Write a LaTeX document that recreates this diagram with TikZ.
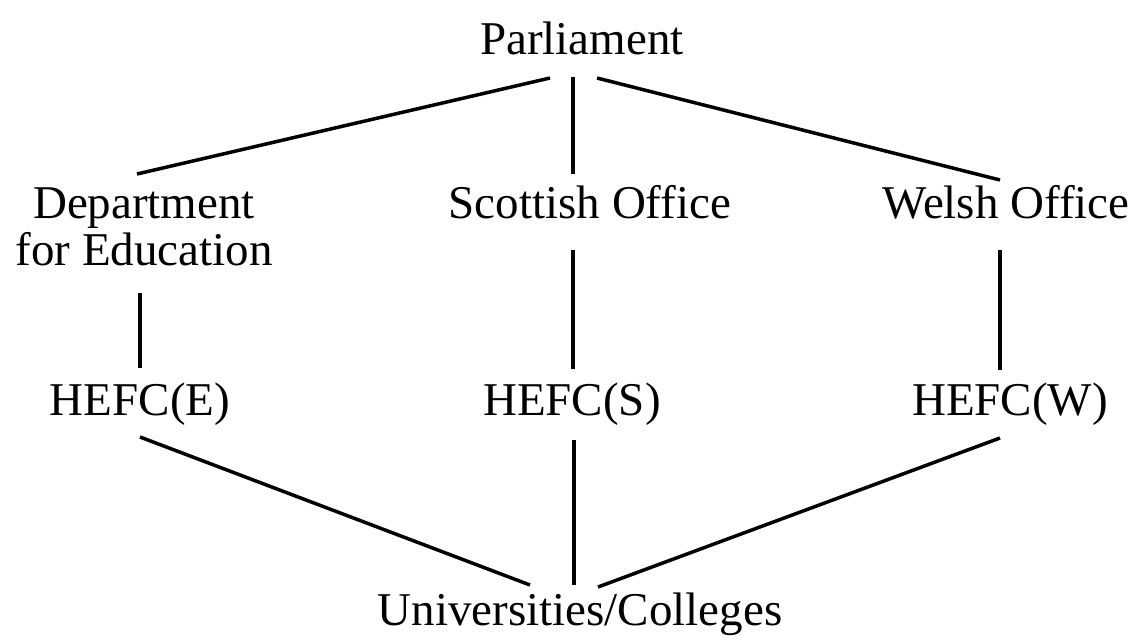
\documentclass[tikz,border=0pt]{standalone}
\usepackage{fontspec}
\setmainfont{Liberation Serif}
\begin{document}
\begin{tikzpicture}[x=1pt,y=-1pt,
  lbl/.style={font=\fontsize{47}{47}\selectfont, inner sep=0pt, anchor=base, align=center},
  conn/.style={line width=3.5pt}]
\useasboundingbox (0,0) rectangle (1138,635);
\node[lbl] (par) at (582,54) {Parliament};
\node[lbl] (dfe) at (144,265) {Department\\for Education};
\node[lbl] (sco) at (590,218) {Scottish Office};
\node[lbl] (wel) at (1006,218) {Welsh Office};
\node[lbl] (he) at (140,415) {HEFC(E)};
\node[lbl] (hs) at (572,415) {HEFC(S)};
\node[lbl] (hw) at (1010,415) {HEFC(W)};
\node[lbl] (uni) at (580,625) {Universities/Colleges};
% connector end points
\coordinate (pL) at (550,78);
\coordinate (pM) at (573,77);
\coordinate (pR) at (597,78);
\coordinate (dT) at (137,174);
\coordinate (sT) at (573,174);
\coordinate (wT) at (1000,180);
\coordinate (dB) at (140,293);
\coordinate (sB) at (573,250);
\coordinate (wB) at (1000,250);
\coordinate (eT) at (140,368);
\coordinate (hsT) at (573,369);
\coordinate (hwT) at (1000,370);
\coordinate (eB) at (140,437);
\coordinate (hsB) at (574,440);
\coordinate (hwB) at (1000,438);
\coordinate (uL) at (530,585);
\coordinate (uM) at (574,585);
\coordinate (uR) at (598,587);
\draw[conn] (pL) -- (dT);
\draw[conn] (pM) -- (sT);
\draw[conn] (pR) -- (wT);
\draw[conn] (dB) -- (eT);
\draw[conn] (sB) -- (hsT);
\draw[conn] (wB) -- (hwT);
\draw[conn] (eB) -- (uL);
\draw[conn] (hsB) -- (uM);
\draw[conn] (hwB) -- (uR);
\end{tikzpicture}
\end{document}
